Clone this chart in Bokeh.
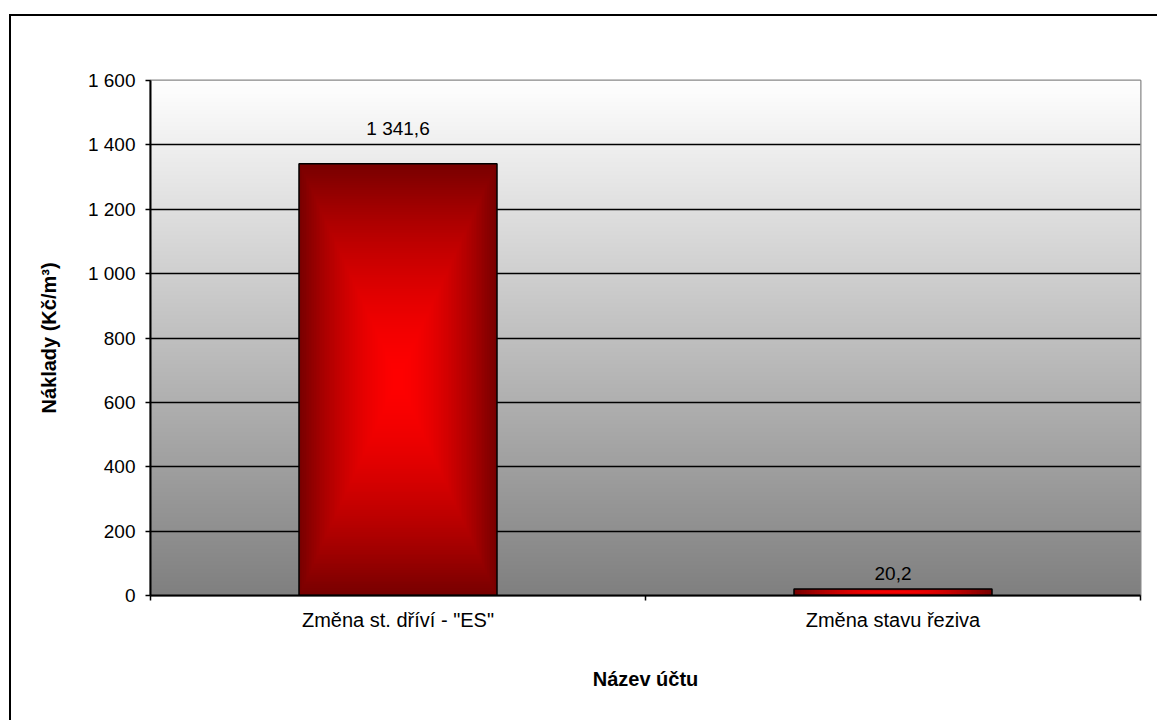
import numpy as np
from bokeh.plotting import figure
from bokeh.models import FixedTicker, ColumnDataSource
from bokeh.embed import file_html
from bokeh.resources import INLINE
from bokeh.core.properties import value

# ---- data ----
categories = ['Změna st. dříví - "ES"', "Změna stavu řeziva"]
values = [1341.6, 20.2]
value_labels = ["1 341,6", "20,2"]
y_ticks = [0, 200, 400, 600, 800, 1000, 1200, 1400, 1600]
y_tick_labels = ["0", "200", "400", "600", "800", "1 000", "1 200", "1 400", "1 600"]
x_title = "Název účtu"
y_title = "Náklady (Kč/m³)"

# ---- style ----
FONT = "Liberation Sans"
bar_width = 0.4
label_offsets = [-35, -15]

cat_pos = [i + 0.5 for i in range(len(categories))]

p = figure(width=1148, height=706, x_range=(0, len(categories)), y_range=(0, 1600),
           output_backend="svg", toolbar_location=None,
           min_border_left=139, min_border_right=19, min_border_top=64, min_border_bottom=127)
p.margin = (14, 0, 0, 9)
p.styles = {"border-left": "2px solid black", "border-top": "2px solid black"}
p.background_fill_color = "white"
p.border_fill_color = "white"
p.outline_line_color = "#888888"
p.outline_line_width = 2

# background gradient (white top -> gray bottom)
H = 256
t = np.linspace(0, 1, H)  # bottom -> top
g = (128 + 127 * t).astype(np.uint8)
bg = np.empty((H, 1), dtype=np.uint32)
v = bg.view(dtype=np.uint8).reshape((H, 1, 4))
v[:, 0, 0] = g
v[:, 0, 1] = g
v[:, 0, 2] = g
v[:, 0, 3] = 255
bgr = p.image_rgba(image=[bg], x=0, y=0, dw=len(categories), dh=1600)
bgr.level = "image"

# bar gradient image (rectangular, from center)
W, HB = 120, 240
uu = np.abs(np.linspace(-1, 1, W))[None, :]
vv = np.abs(np.linspace(-1, 1, HB))[:, None]
d = np.maximum(uu, vv)
r = (255 - (255 - 120) * d ** 1.6).astype(np.uint8)
bar_img = np.empty((HB, W), dtype=np.uint32)
bv = bar_img.view(dtype=np.uint8).reshape((HB, W, 4))
bv[:, :, 0] = r
bv[:, :, 1] = 0
bv[:, :, 2] = 0
bv[:, :, 3] = 255

lefts = [c - bar_width / 2 for c in cat_pos]
p.image_rgba(image=[bar_img] * len(values), x=lefts, y=[0] * len(values),
             dw=[bar_width] * len(values), dh=values)
p.quad(left=lefts, right=[c + bar_width / 2 for c in cat_pos], bottom=0, top=values,
       fill_alpha=0, line_color="black", line_width=1.5)

src = ColumnDataSource(dict(x=cat_pos, y=values, text=value_labels, off=label_offsets))
p.text(x="x", y="y", text="text", y_offset="off", source=src, text_align="center",
       text_baseline="alphabetic", text_font=value(FONT), text_font_size="19px",
       text_color="black")

# grid
p.xgrid.visible = False
p.ygrid.ticker = FixedTicker(ticks=y_ticks[1:-1])
p.ygrid.grid_line_color = "black"
p.ygrid.grid_line_width = 1.5

# y axis
ya = p.yaxis[0]
ya.ticker = FixedTicker(ticks=y_ticks)
ya.major_label_overrides = {t_: l for t_, l in zip(y_ticks, y_tick_labels)}
ya.minor_tick_line_color = None
ya.major_tick_in = 0
ya.major_tick_out = 5
ya.axis_line_width = 2
ya.major_tick_line_width = 1.5
ya.major_label_text_font = FONT
ya.major_label_text_font_size = "19px"
ya.major_label_text_color = "black"
ya.major_label_standoff = 10
ya.axis_label = y_title
ya.axis_label_text_font = FONT
ya.axis_label_text_font_size = "20px"
ya.axis_label_text_font_style = "bold"
ya.axis_label_text_color = "black"
ya.axis_label_standoff = 25

# x axis
xa = p.xaxis[0]
xa.ticker = FixedTicker(ticks=cat_pos, minor_ticks=list(range(len(categories) + 1)))
xa.major_label_overrides = {c: n for c, n in zip(cat_pos, categories)}
xa.major_tick_in = 0
xa.major_tick_out = 0
xa.minor_tick_in = 0
xa.minor_tick_out = 5
xa.minor_tick_line_width = 1.5
xa.axis_line_width = 2
xa.major_label_text_font = FONT
xa.major_label_text_font_size = "20px"
xa.major_label_text_color = "black"
xa.major_label_standoff = 8
xa.axis_label = x_title
xa.axis_label_text_font = FONT
xa.axis_label_text_font_size = "20px"
xa.axis_label_text_font_style = "bold"
xa.axis_label_text_color = "black"
xa.axis_label_standoff = 34

open("out.html", "w").write(file_html(p, INLINE))
